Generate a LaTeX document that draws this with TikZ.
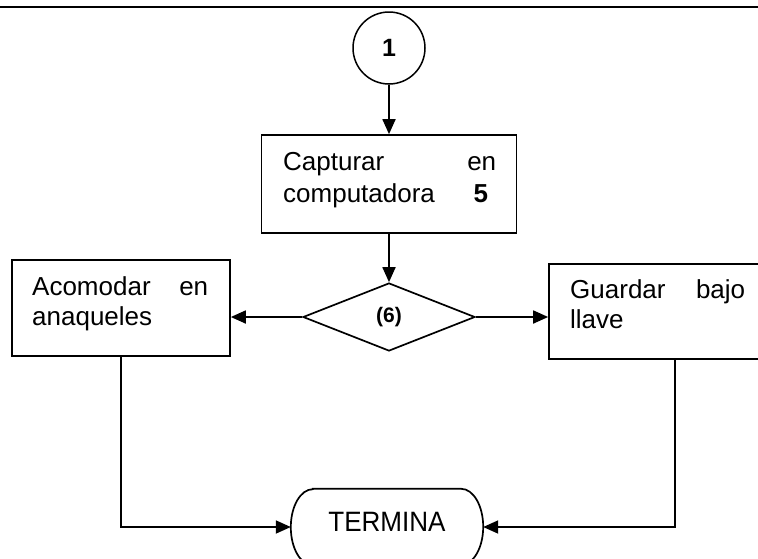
\documentclass[tikz,border=0pt]{standalone}
\usepackage{fontspec}
\setmainfont{Liberation Sans}
\newfontfamily\tallfont[FakeStretch=0.93]{Liberation Sans}
\usetikzlibrary{shapes.geometric,arrows.meta}
\begin{document}
\begin{tikzpicture}[x=1pt,y=1pt,
  box/.style={draw, line width=1.7pt, rectangle, inner sep=0pt},
  arr/.style={line width=1.8pt, -{Triangle[length=15pt,width=13pt]}},
  txt/.style={font=\fontsize{26}{32}\selectfont, inner sep=0pt, anchor=base west, align=left},
  outline/.style={line width=1.7pt}
]
\useasboundingbox (0,0) rectangle (758,-558);
\clip (0,0) rectangle (758,-558);
\draw[line width=2.5pt] (0,-7) -- (758,-7);
% start connector
\node[draw, circle, line width=1.5pt, minimum size=72pt, inner sep=0pt, font=\fontsize{25}{28}\selectfont\bfseries] (c1) at (389,-48) {1};
% capture box
\node[box, minimum width=255pt, minimum height=98pt] (b1) at (389,-184) {};
\node[txt, text width=213pt] (b1a) at (283,-170) {Capturar\hfill en};
\node[txt, text width=205pt] (b1b) at (283,-202) {computadora\hfill{\bfseries 5}};
% decision
\node[draw, diamond, line width=1.7pt, minimum width=172pt, minimum height=68pt, inner sep=0pt, aspect=2.5, font=\fontsize{21}{24}\selectfont\bfseries] (d) at (389,-317) {(6)};
% left box
\node[box, minimum width=218pt, minimum height=96pt] (bl) at (121,-308) {};
\node[txt, text width=176pt] (bla) at (32,-295) {Acomodar\hfill en};
\node[txt] (blb) at (32,-325) {anaqueles};
% right box
\node[box, minimum width=252pt, minimum height=95pt] (br) at (675,-311.5) {};
\node[txt, text width=175pt] (bra) at (570,-298) {Guardar\hfill bajo};
\node[txt] (brb) at (570,-328) {llave};
% terminal
\node[inner sep=0pt, minimum width=192pt, minimum height=76pt, text depth=10pt, font=\tallfont\fontsize{28}{32}\selectfont] (term) at (387,-527) {TERMINA};
\draw[outline] ([xshift=22pt]term.north west) -- ([xshift=-22pt]term.north east)
  arc[start angle=90,end angle=-90,x radius=22pt,y radius=38pt]
  -- ([xshift=22pt]term.south west)
  arc[start angle=270,end angle=90,x radius=22pt,y radius=38pt] -- cycle;
% connectors
\draw[arr] (c1) -- (b1);
\draw[arr] (b1) -- (d);
\draw[arr] (d.west) -- (d.west -| bl.east);
\draw[arr] (d.east) -- (d.east -| br.west);
\draw[arr] (bl.south) |- (term.west);
\draw[arr] (br.south) |- (term.east);
\end{tikzpicture}
\end{document}
